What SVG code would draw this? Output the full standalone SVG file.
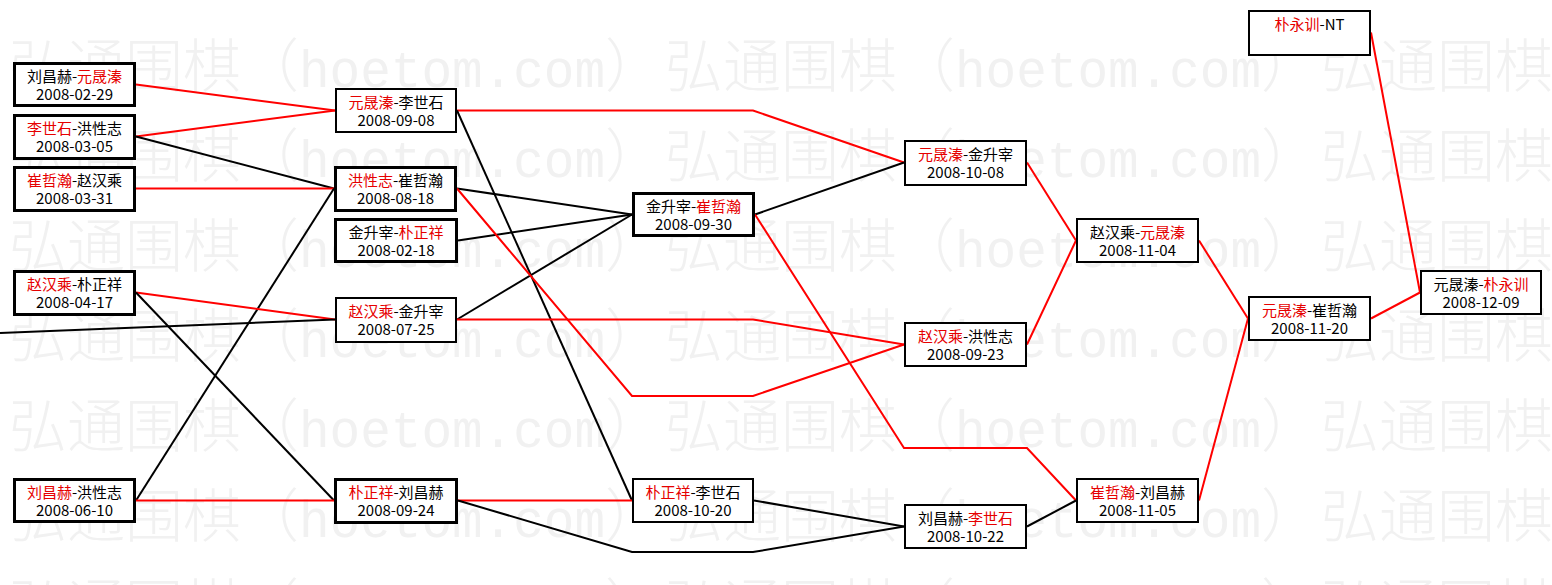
<svg xmlns="http://www.w3.org/2000/svg" width="1552" height="585" viewBox="0 0 1552 585">
<style>
.bg{fill:#fff}
.wm{font-family:"Noto Sans CJK SC",sans-serif;font-size:58px;font-weight:300;fill:#f1f1f1}
.wl{font-family:"Liberation Mono",monospace;font-size:51px;font-weight:400}
.box{fill:#fff;stroke:#000}
.s3{stroke-width:3}
.s2{stroke-width:2}
.lbl{font-family:"Noto Sans CJK SC",sans-serif;font-size:15px;text-anchor:middle;fill:#000}
.r{fill:#e60000}
.cr{fill:none;stroke:#f00;stroke-width:2}
.cb{fill:none;stroke:#000;stroke-width:2}
</style>
<defs>
<g id="wmrow">
<text class="wm" x="9" y="0">弘通围棋（<tspan class="wl">hoetom.com</tspan>）</text>
<text class="wm" x="665" y="0">弘通围棋（<tspan class="wl">hoetom.com</tspan>）</text>
<text class="wm" x="1321" y="0">弘通围棋（<tspan class="wl">hoetom.com</tspan>）</text>
</g>
</defs>
<rect class="bg" x="0" y="0" width="1552" height="585"/>
<g id="watermark">
<use href="#wmrow" y="87"/>
<use href="#wmrow" y="177"/>
<use href="#wmrow" y="267"/>
<use href="#wmrow" y="357"/>
<use href="#wmrow" y="447"/>
<use href="#wmrow" y="537"/>
<use href="#wmrow" y="627"/>
</g>
<g id="connectors">
<path class="cr" d="M136,84.5 L335,110.5"/>
<path class="cr" d="M136,136.5 L335,110.5"/>
<path class="cb" d="M136,136.5 L334,188.5"/>
<path class="cr" d="M136,188.5 L334,188.5"/>
<path class="cb" d="M136,500.5 L334,188.5"/>
<path class="cr" d="M136,292.5 L335,319.5"/>
<path class="cb" d="M136,292.5 L334,500.5"/>
<path class="cr" d="M136,500.5 L334,500.5"/>
<path class="cb" d="M0,333 L335,319.5"/>
<path class="cr" d="M457,110.5 L753,110.5 L904,162.5"/>
<path class="cb" d="M457,110.5 L632,500.5"/>
<path class="cb" d="M457,188.5 L632,214.5"/>
<path class="cb" d="M458,240.5 L632,214.5"/>
<path class="cb" d="M457,319.5 L632,214.5"/>
<path class="cr" d="M457,188.5 L632,396 L753,396 L904,344.5"/>
<path class="cr" d="M457,319.5 L753,319.5 L904,344.5"/>
<path class="cr" d="M458,500.5 L632,500.5"/>
<path class="cb" d="M458,500.5 L632,552 L753,552 L904,526.5"/>
<path class="cb" d="M754,500.5 L904,526.5"/>
<path class="cb" d="M755,214.5 L904,162.5"/>
<path class="cr" d="M755,214.5 L904,448 L1027,448 L1076,500.5"/>
<path class="cr" d="M1027,162.5 L1076,240.5"/>
<path class="cr" d="M1027,344.5 L1076,240.5"/>
<path class="cb" d="M1027,526.5 L1076,500.5"/>
<path class="cr" d="M1199,240.5 L1248,318.5"/>
<path class="cr" d="M1199,500.5 L1248,318.5"/>
<path class="cr" d="M1371,318.5 L1420,292.5"/>
<path class="cr" d="M1371,32.5 L1420,292.5"/>
</g>
<g id="n-A"><rect class="box s3" x="14.5" y="63.5" width="120" height="42"/><text class="lbl" x="74.5" y="82">刘昌赫-<tspan class="r">元晟溱</tspan></text><text class="lbl" x="74.5" y="100">2008-02-29</text></g>
<g id="n-B"><rect class="box s3" x="14.5" y="115.5" width="120" height="43"/><text class="lbl" x="74.5" y="134"><tspan class="r">李世石</tspan>-洪性志</text><text class="lbl" x="74.5" y="152">2008-03-05</text></g>
<g id="n-C"><rect class="box s3" x="14.5" y="167.5" width="120" height="43"/><text class="lbl" x="74.5" y="186"><tspan class="r">崔哲瀚</tspan>-赵汉乘</text><text class="lbl" x="74.5" y="204">2008-03-31</text></g>
<g id="n-G"><rect class="box s3" x="14.5" y="271.5" width="120" height="43"/><text class="lbl" x="74.5" y="290"><tspan class="r">赵汉乘</tspan>-朴正祥</text><text class="lbl" x="74.5" y="308">2008-04-17</text></g>
<g id="n-I"><rect class="box s3" x="14.5" y="479.5" width="120" height="42"/><text class="lbl" x="74.5" y="498"><tspan class="r">刘昌赫</tspan>-洪性志</text><text class="lbl" x="74.5" y="516">2008-06-10</text></g>
<g id="n-D"><rect class="box s2" x="336" y="89" width="120" height="43"/><text class="lbl" x="396" y="108"><tspan class="r">元晟溱</tspan>-李世石</text><text class="lbl" x="396" y="126">2008-09-08</text></g>
<g id="n-E"><rect class="box s3" x="335.5" y="167.5" width="120" height="43"/><text class="lbl" x="395.5" y="186"><tspan class="r">洪性志</tspan>-崔哲瀚</text><text class="lbl" x="395.5" y="204">2008-08-18</text></g>
<g id="n-F"><rect class="box s3" x="335.5" y="219.5" width="121" height="42"/><text class="lbl" x="396" y="238">金升宰-<tspan class="r">朴正祥</tspan></text><text class="lbl" x="396" y="256">2008-02-18</text></g>
<g id="n-H"><rect class="box s2" x="336" y="298" width="120" height="44"/><text class="lbl" x="396" y="317"><tspan class="r">赵汉乘</tspan>-金升宰</text><text class="lbl" x="396" y="335">2008-07-25</text></g>
<g id="n-J"><rect class="box s3" x="335.5" y="479.5" width="121" height="43"/><text class="lbl" x="396" y="498"><tspan class="r">朴正祥</tspan>-刘昌赫</text><text class="lbl" x="396" y="516">2008-09-24</text></g>
<g id="n-K"><rect class="box s3" x="633.5" y="193.5" width="120" height="42"/><text class="lbl" x="693.5" y="212">金升宰-<tspan class="r">崔哲瀚</tspan></text><text class="lbl" x="693.5" y="230">2008-09-30</text></g>
<g id="n-N"><rect class="box s2" x="633" y="479" width="120" height="43"/><text class="lbl" x="693" y="498"><tspan class="r">朴正祥</tspan>-李世石</text><text class="lbl" x="693" y="516">2008-10-20</text></g>
<g id="n-L"><rect class="box s2" x="905" y="141" width="121" height="44"/><text class="lbl" x="965.5" y="160"><tspan class="r">元晟溱</tspan>-金升宰</text><text class="lbl" x="965.5" y="178">2008-10-08</text></g>
<g id="n-M"><rect class="box s2" x="905" y="323" width="121" height="43"/><text class="lbl" x="965.5" y="342"><tspan class="r">赵汉乘</tspan>-洪性志</text><text class="lbl" x="965.5" y="360">2008-09-23</text></g>
<g id="n-O"><rect class="box s2" x="905" y="505" width="121" height="43"/><text class="lbl" x="965.5" y="524">刘昌赫-<tspan class="r">李世石</tspan></text><text class="lbl" x="965.5" y="542">2008-10-22</text></g>
<g id="n-Q"><rect class="box s2" x="1077" y="219" width="121" height="43"/><text class="lbl" x="1137.5" y="238">赵汉乘-<tspan class="r">元晟溱</tspan></text><text class="lbl" x="1137.5" y="256">2008-11-04</text></g>
<g id="n-T"><rect class="box s2" x="1077" y="479" width="121" height="43"/><text class="lbl" x="1137.5" y="498"><tspan class="r">崔哲瀚</tspan>-刘昌赫</text><text class="lbl" x="1137.5" y="516">2008-11-05</text></g>
<g id="n-P"><rect class="box s2" x="1249" y="11" width="121" height="44"/><text class="lbl" x="1309.5" y="30"><tspan class="r">朴永训</tspan>-NT</text></g>
<g id="n-R"><rect class="box s2" x="1249" y="297" width="121" height="43"/><text class="lbl" x="1309.5" y="316"><tspan class="r">元晟溱</tspan>-崔哲瀚</text><text class="lbl" x="1309.5" y="334">2008-11-20</text></g>
<g id="n-S"><rect class="box s2" x="1421" y="271" width="120" height="43"/><text class="lbl" x="1481" y="290">元晟溱-<tspan class="r">朴永训</tspan></text><text class="lbl" x="1481" y="308">2008-12-09</text></g>
</svg>
